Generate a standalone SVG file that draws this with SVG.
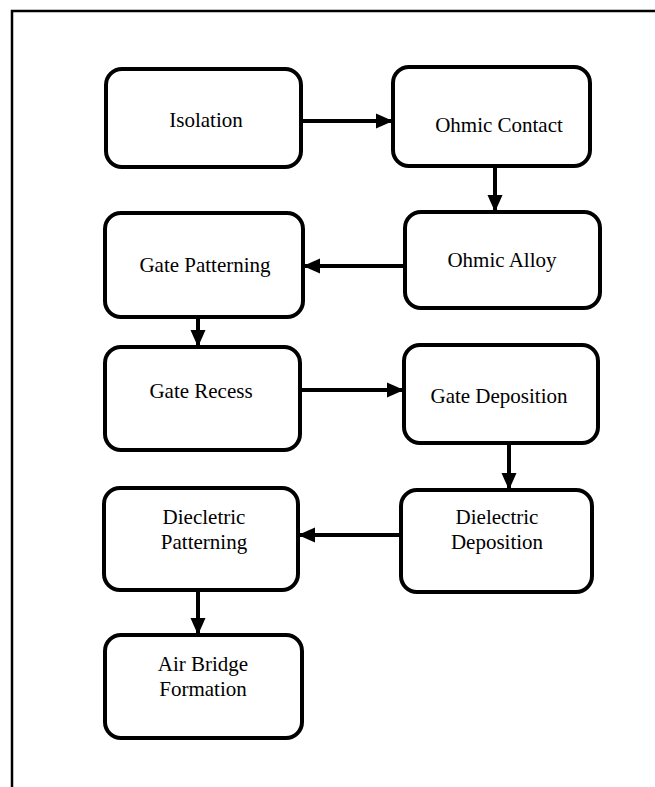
<svg xmlns="http://www.w3.org/2000/svg" width="655" height="787" viewBox="0 0 655 787">
<defs>
<style>
.box{fill:#fff;stroke:#000;stroke-width:4}
.t{font-family:"Liberation Serif","Times New Roman",serif;font-size:21px;fill:#000;text-anchor:middle}
.c{stroke:#000;stroke-width:4;fill:none}
</style>
<marker id="ah" markerUnits="userSpaceOnUse" markerWidth="18" markerHeight="18" viewBox="0 0 18 18" refX="17" refY="9" orient="auto">
<path d="M0,1.5 L17,9 L0,16.5 Z" fill="#000"/>
</marker>
</defs>
<rect width="655" height="787" fill="#fff"/>
<path d="M12,787 V11 H655" fill="none" stroke="#000" stroke-width="2.5"/>
<g id="isolation"><rect class="box" x="106" y="69" width="195" height="98" rx="16"/><text class="t" x="206" y="127">Isolation</text></g>
<g id="ohmic-contact"><rect class="box" x="393" y="67" width="197" height="99" rx="16"/><text class="t" x="499" y="132">Ohmic Contact</text></g>
<g id="ohmic-alloy"><rect class="box" x="405" y="212" width="195" height="96" rx="16"/><text class="t" x="502" y="267">Ohmic Alloy</text></g>
<g id="gate-patterning"><rect class="box" x="105" y="213" width="198" height="104" rx="16"/><text class="t" x="205" y="272">Gate Patterning</text></g>
<g id="gate-recess"><rect class="box" x="105" y="347" width="195" height="103" rx="16"/><text class="t" x="201" y="398">Gate Recess</text></g>
<g id="gate-deposition"><rect class="box" x="404" y="345" width="194" height="98" rx="16"/><text class="t" x="499" y="403">Gate Deposition</text></g>
<g id="dielectric-deposition"><rect class="box" x="401" y="490" width="191" height="102" rx="16"/><text class="t" x="497" y="524">Dielectric</text><text class="t" x="497" y="549">Deposition</text></g>
<g id="diecletric-patterning"><rect class="box" x="104" y="488" width="194" height="102" rx="16"/><text class="t" x="204" y="524">Diecletric</text><text class="t" x="204" y="549">Patterning</text></g>
<g id="air-bridge-formation"><rect class="box" x="105" y="635" width="197" height="103" rx="16"/><text class="t" x="203" y="671">Air Bridge</text><text class="t" x="203" y="696">Formation</text></g>
<g id="connectors">
<line class="c" x1="301" y1="121" x2="393" y2="121" marker-end="url(#ah)"/>
<line class="c" x1="495" y1="166" x2="495" y2="212" marker-end="url(#ah)"/>
<line class="c" x1="405" y1="266" x2="303" y2="266" marker-end="url(#ah)"/>
<line class="c" x1="198" y1="317" x2="198" y2="347" marker-end="url(#ah)"/>
<line class="c" x1="300" y1="390" x2="404" y2="390" marker-end="url(#ah)"/>
<line class="c" x1="509" y1="443" x2="509" y2="490" marker-end="url(#ah)"/>
<line class="c" x1="401" y1="535" x2="298" y2="535" marker-end="url(#ah)"/>
<line class="c" x1="198" y1="590" x2="198" y2="635" marker-end="url(#ah)"/>
</g>
</svg>
